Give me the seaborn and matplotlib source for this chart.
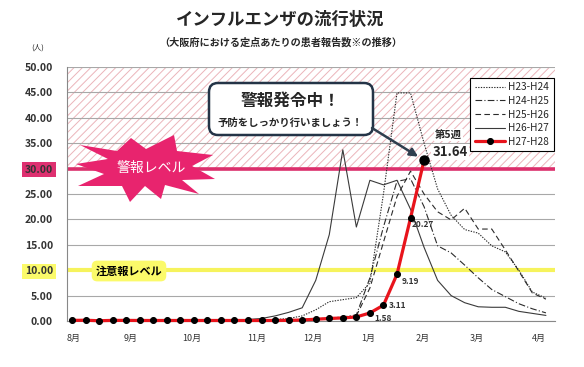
import numpy as np
import matplotlib
matplotlib.use("Agg")
import matplotlib.pyplot as plt
import seaborn as sns
from matplotlib.patches import Polygon, FancyBboxPatch
from matplotlib.transforms import IdentityTransform

# Daten (Wochenwerte pro Saison, Index 0 = Anfang August)
weeks = np.arange(36)
seasons = ["H23-H24", "H24-H25", "H25-H26", "H26-H27", "H27-H28"]
h23_24 = [0.1, 0.1, 0.05, 0.1, 0.1, 0.1, 0.1, 0.1, 0.1, 0.1, 0.1, 0.1, 0.15, 0.2, 0.25, 0.3,
          0.5, 1.0, 2.2, 3.8, 4.2, 4.6, 7.5, 25.0, 44.9, 44.9, 35.0, 26.0, 20.8, 18.0, 17.3,
          14.8, 13.6, 10.0, 5.7, 4.5]
h24_25 = [0.1, 0.1, 0.1, 0.1, 0.1, 0.1, 0.1, 0.1, 0.1, 0.1, 0.1, 0.1, 0.1, 0.15, 0.2, 0.2,
          0.25, 0.3, 0.4, 0.6, 0.8, 1.2, 8.5, 18.5, 27.5, 28.0, 22.5, 14.8, 13.4, 11.0, 8.5,
          6.2, 4.8, 3.4, 2.4, 1.6]
h25_26 = [0.1, 0.1, 0.1, 0.1, 0.1, 0.1, 0.1, 0.1, 0.1, 0.1, 0.1, 0.1, 0.1, 0.1, 0.1, 0.15,
          0.15, 0.2, 0.3, 0.4, 0.6, 1.0, 6.5, 15.5, 24.5, 29.5, 25.0, 21.5, 19.9, 22.2, 18.1,
          18.1, 14.0, 9.8, 5.5, 4.3]
h26_27 = [0.1, 0.1, 0.1, 0.1, 0.1, 0.1, 0.1, 0.1, 0.1, 0.1, 0.1, 0.15, 0.2, 0.3, 0.5, 1.0,
          1.7, 2.6, 8.0, 17.0, 33.7, 18.5, 27.7, 26.8, 27.7, 22.0, 14.5, 8.0, 5.0, 3.6, 2.8,
          2.7, 2.7, 1.9, 1.5, 1.1]
h27_28 = [0.12, 0.15, 0.05, 0.12, 0.12, 0.1, 0.1, 0.1, 0.1, 0.1, 0.1, 0.1, 0.1, 0.1, 0.1,
          0.1, 0.12, 0.2, 0.35, 0.5, 0.6, 0.8, 1.58, 3.11, 9.19, 20.27, 31.64]
label_idx = [22, 23, 24, 25]  # Punkte mit Wertbeschriftung

month_labels = ["8月", "9月", "10月", "11月", "12月", "1月", "2月", "3月", "4月"]
month_pos = [0.15, 4.35, 8.85, 13.65, 17.8, 21.9, 25.9, 29.9, 34.5]
yticks = np.arange(0, 55, 5)

sns.set_style("white")
plt.rcParams["font.family"] = ["Noto Sans CJK JP", "DejaVu Sans"]
plt.rcParams["hatch.linewidth"] = 0.7

H = 367
def fy(y):
    # Pixel von oben -> Anzeige-Koordinate von unten
    return H - y

PX = IdentityTransform()

fig = plt.figure(figsize=(5.84, 3.67), dpi=100)
ax = fig.add_axes([67 / 584, 1 - 321 / 367, (555 - 67) / 584, (321 - 67) / 367])

# Warnbereich schraffiert
ax.axhspan(30, 50, facecolor="white", edgecolor="#ebb4ba", hatch="////", lw=0, zorder=0.5)
for v in yticks:
    ax.axhline(v, color="#a8a8a8", lw=0.8, zorder=1)
ax.axhline(30, color="#dc2f6c", lw=2.6, zorder=2)
ax.axhline(10, color="#f6f35c", lw=3.0, zorder=2)

styles = {"H23-H24": (0, (1.2, 1.2)), "H24-H25": (0, (6, 2, 1, 2)),
          "H25-H26": (0, (5, 3)), "H26-H27": "-"}
colors = {"H23-H24": "#2b2b2b", "H24-H25": "#2b2b2b", "H25-H26": "#2b2b2b",
          "H26-H27": "#3a3a3a"}
data = {"H23-H24": h23_24, "H24-H25": h24_25, "H25-H26": h25_26, "H26-H27": h26_27}
for s in seasons[:4]:
    sns.lineplot(x=weeks, y=data[s], ax=ax, color=colors[s], lw=0.8,
                 linestyle=styles[s], label=s, zorder=3)

red = "#e8141c"
sns.lineplot(x=weeks[:len(h27_28)], y=h27_28, ax=ax, color=red, lw=2.3, marker="o",
             markersize=4.3, markerfacecolor="black", markeredgecolor="black",
             label="H27-H28", zorder=4, clip_on=False)
ax.plot(weeks[len(h27_28) - 1], h27_28[-1], "o", color="black", ms=6.5, zorder=5)

offs = {22: (3, -4), 23: (4, 0), 24: (3, -5), 25: (1, -5)}
for i in label_idx:
    ax.annotate(f"{h27_28[i]:.2f}", xy=(weeks[i], h27_28[i]), xytext=offs[i],
                textcoords="offset points", fontsize=6, color="#333333",
                fontweight="bold", va="center", ha="left", zorder=6)
ax.annotate(f"{h27_28[-1]:.2f}", xy=(weeks[26], h27_28[-1]), xytext=(6, 6),
            textcoords="offset points", fontsize=9.5, fontweight="bold",
            va="center", ha="left", zorder=6,
            bbox=dict(boxstyle="square,pad=0.1", fc="white", ec="none"))
ax.annotate("第5週", xy=(weeks[26], h27_28[-1]), xytext=(8, 18),
            textcoords="offset points", fontsize=7.5, fontweight="bold",
            va="center", ha="left", zorder=6,
            bbox=dict(boxstyle="square,pad=0.1", fc="white", ec="none"))

# Achsen
ax.set_xlim(-0.37, 35.67)
ax.set_ylim(0, 50)
ax.set_yticks(yticks, [f"{v:.2f}" for v in yticks])
ax.set_xticks(month_pos, month_labels)
ax.set_xticks(np.arange(-0.33, 35.7, 1), minor=True)
ax.tick_params(axis="y", length=4, color="#888888", labelsize=7.5, pad=6,
               labelcolor="#333333")
ax.tick_params(axis="x", which="major", length=0, labelsize=6.5, pad=9,
               labelcolor="#333333")
ax.tick_params(axis="x", which="minor", length=3, color="#888888", direction="out")
for lab in ax.get_yticklabels():
    lab.set_fontweight("bold")
    if lab.get_text() == "30.00":
        lab.set_bbox(dict(boxstyle="square,pad=0.25", fc="#de3070", ec="none"))
    if lab.get_text() == "10.00":
        lab.set_bbox(dict(boxstyle="square,pad=0.25", fc="#fbfa6a", ec="none"))
for sp in ["top", "right"]:
    ax.spines[sp].set_visible(False)
for sp in ["left", "bottom"]:
    ax.spines[sp].set_color("#888888")
    ax.spines[sp].set_linewidth(0.8)
ax.set_xlabel("")
ax.set_ylabel("")

leg = ax.legend(loc="upper right", bbox_to_anchor=(0.997, 0.957), borderaxespad=0,
                fontsize=7.3, frameon=True, fancybox=False, edgecolor="black",
                framealpha=1, handlelength=3.0, labelspacing=0.35, borderpad=0.45,
                handletextpad=0.3)
leg.get_frame().set_linewidth(0.8)
leg.set_zorder(10)

# Sternform "警報レベル"
star = [(76, 164), (108, 159), (80, 145), (117, 151), (131, 138), (146, 149), (174, 135),
        (177, 151), (213, 155), (192, 166), (215, 179), (182, 180), (199, 194), (165, 185),
        (161, 199), (145, 186), (130, 202), (122, 186), (78, 186), (104, 174)]
ax.add_patch(Polygon([(x, fy(y)) for x, y in star], closed=True, fc="#e8246e",
                     ec="none", transform=PX, zorder=7, clip_on=False))
ax.text(151, fy(168), "警報レベル", transform=PX, color="white", fontsize=10,
        ha="center", va="center", zorder=8)

ax.text(129, fy(271), "注意報レベル", transform=PX, color="black", fontsize=8,
        fontweight="bold", ha="center", va="center", zorder=8,
        bbox=dict(boxstyle="round,pad=0.35,rounding_size=0.5", fc="#fbfa6a", ec="none"))

# Sprechblase
ax.add_patch(FancyBboxPatch((209, fy(135)), 164, 52,
                            boxstyle="round,pad=0,rounding_size=9", fc="white",
                            ec="#243447", lw=1.8, transform=PX, zorder=8, clip_on=False))
ax.text(290, fy(101), "警報発令中！", transform=PX, fontsize=12, fontweight="bold",
        ha="center", va="center", zorder=9)
ax.text(290, fy(123), "予防をしっかり行いましょう！", transform=PX, fontsize=7.5,
        fontweight="bold", ha="center", va="center", zorder=9)
ax.annotate("", xy=(weeks[26], h27_28[-1]), xycoords="data", xytext=(372, fy(128)),
            textcoords=PX, zorder=9,
            arrowprops=dict(arrowstyle="-|>", color="#2f3e4e", lw=1.8,
                            mutation_scale=12, shrinkA=0, shrinkB=5))

# Titel
fig.text(280, fy(20), "インフルエンザの流行状況", transform=PX, fontsize=12.5,
         fontweight="bold", ha="center", va="center")
fig.text(281, fy(43), "（大阪府における定点あたりの患者報告数※の推移）", transform=PX,
         fontsize=7.3, fontweight="bold", ha="center", va="center")
fig.text(38, fy(48), "(人)", transform=PX, fontsize=5.5, ha="center", va="center")

fig.savefig("out.png", dpi=100)
